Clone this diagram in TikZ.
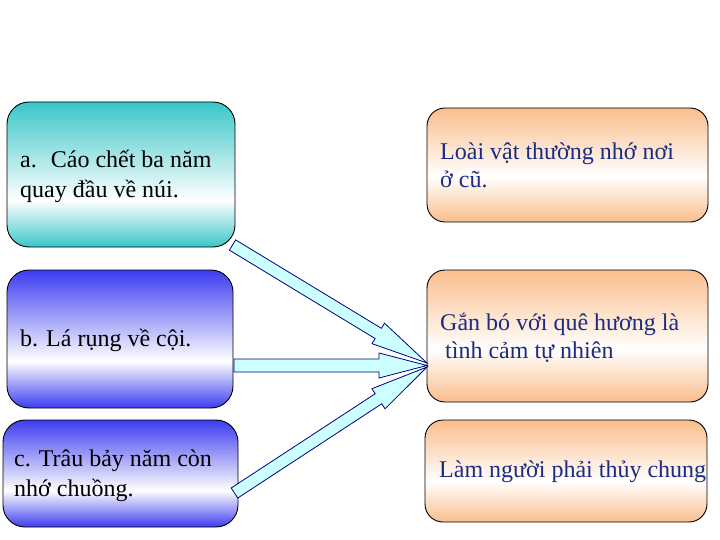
\documentclass[tikz,border=0pt]{standalone}
\usepackage{fontspec}
\setmainfont{Liberation Serif}
\usetikzlibrary{calc}
\definecolor{tealc}{RGB}{58,198,200}
\definecolor{bluec}{RGB}{60,60,240}
\definecolor{peachc}{RGB}{250,190,140}
\definecolor{arrowfill}{RGB}{204,255,255}
\definecolor{arrowline}{RGB}{0,0,128}
\definecolor{navytext}{RGB}{28,44,128}
\pgfdeclareverticalshading{tealsh}{100bp}{color(0bp)=(tealc); color(25bp)=(tealc); color(41bp)=(white); color(75bp)=(tealc); color(100bp)=(tealc)}
\pgfdeclareverticalshading{bluesh}{100bp}{color(0bp)=(bluec); color(25bp)=(bluec); color(42bp)=(white); color(75bp)=(bluec); color(100bp)=(bluec)}
\pgfdeclareverticalshading{peachsh}{100bp}{color(0bp)=(peachc); color(25bp)=(peachc); color(45bp)=(white); color(75bp)=(peachc); color(100bp)=(peachc)}
\newcommand\blockarrow[5]{%
  \coordinate (#1h) at ($(#2)!#4!(#1)$);
  \draw[barrow] ($(#1)!#3!90:(#2)$) -- ($(#1h)!#3!90:(#2)$) -- ($(#1h)!#5!90:(#2)$) -- (#2)
    -- ($(#1h)!#5!-90:(#2)$) -- ($(#1h)!#3!-90:(#2)$) -- ($(#1)!#3!-90:(#2)$) -- cycle;}
\tikzset{
  box/.style={draw=black, line width=0.9pt, rectangle},
  lbox/.style={box, rounded corners=22pt},
  rbox/.style={box, rounded corners=18pt, shading=peachsh},
  ltext/.style={inner sep=0pt, anchor=west, align=left, font=\fontsize{24}{30}\selectfont, text=black},
  rtext/.style={inner sep=0pt, anchor=west, align=left, font=\fontsize{24}{28}\selectfont, text=navytext},
  barrow/.style={draw=arrowline, fill=arrowfill, line width=0.8pt, line join=miter}
}
\begin{document}
\begin{tikzpicture}[x=1pt,y=-1pt]
\useasboundingbox (0,0) rectangle (720,540);
% left boxes
\node[lbox, shading=tealsh, minimum width=228pt, minimum height=145pt] (a) at (121,174.5) {};
\node[lbox, shading=bluesh, minimum width=226pt, minimum height=138pt] (b) at (120,339) {};
\node[lbox, shading=bluesh, minimum width=235pt, minimum height=107pt] (c) at (120.5,473.5) {};
% right boxes
\node[rbox, minimum width=281pt, minimum height=114pt] (r1) at (567.5,165) {};
\node[rbox, minimum width=281pt, minimum height=132pt] (r2) at (567.5,336) {};
\node[rbox, minimum width=282pt, minimum height=102pt] (r3) at (566,471) {};
% texts
\node[ltext] (at) at (20,176) {a.~ Cáo chết ba năm\\quay đầu về núi.};
\node[ltext] (bt) at (20,340) {b. Lá rụng về cội.};
\node[ltext] (ct) at (14,476) {c. Trâu bảy năm còn\\nhớ chuồng.};
\node[rtext] (r1t) at (440,165) {Loài vật thường nhớ nơi\\ở cũ.};
\node[rtext] (r2t) at (440,338) {Gắn bó với quê hương là\\\hspace{5pt}tình cảm tự nhiên};
\node[rtext] (r3t) at (439,472) {Làm người phải thủy chung};
% arrows
\coordinate (ta) at (232.5,245);
\coordinate (pa) at (427,363);
\coordinate (tb) at (234,365.5);
\coordinate (pb) at (427,365.5);
\coordinate (tc) at (234.5,493);
\coordinate (pc) at (427,367);
\blockarrow{ta}{pa}{6pt}{57pt}{12pt}
\blockarrow{tb}{pb}{6.5pt}{48pt}{12.5pt}
\blockarrow{tc}{pc}{6pt}{58pt}{12pt}
\end{tikzpicture}
\end{document}
